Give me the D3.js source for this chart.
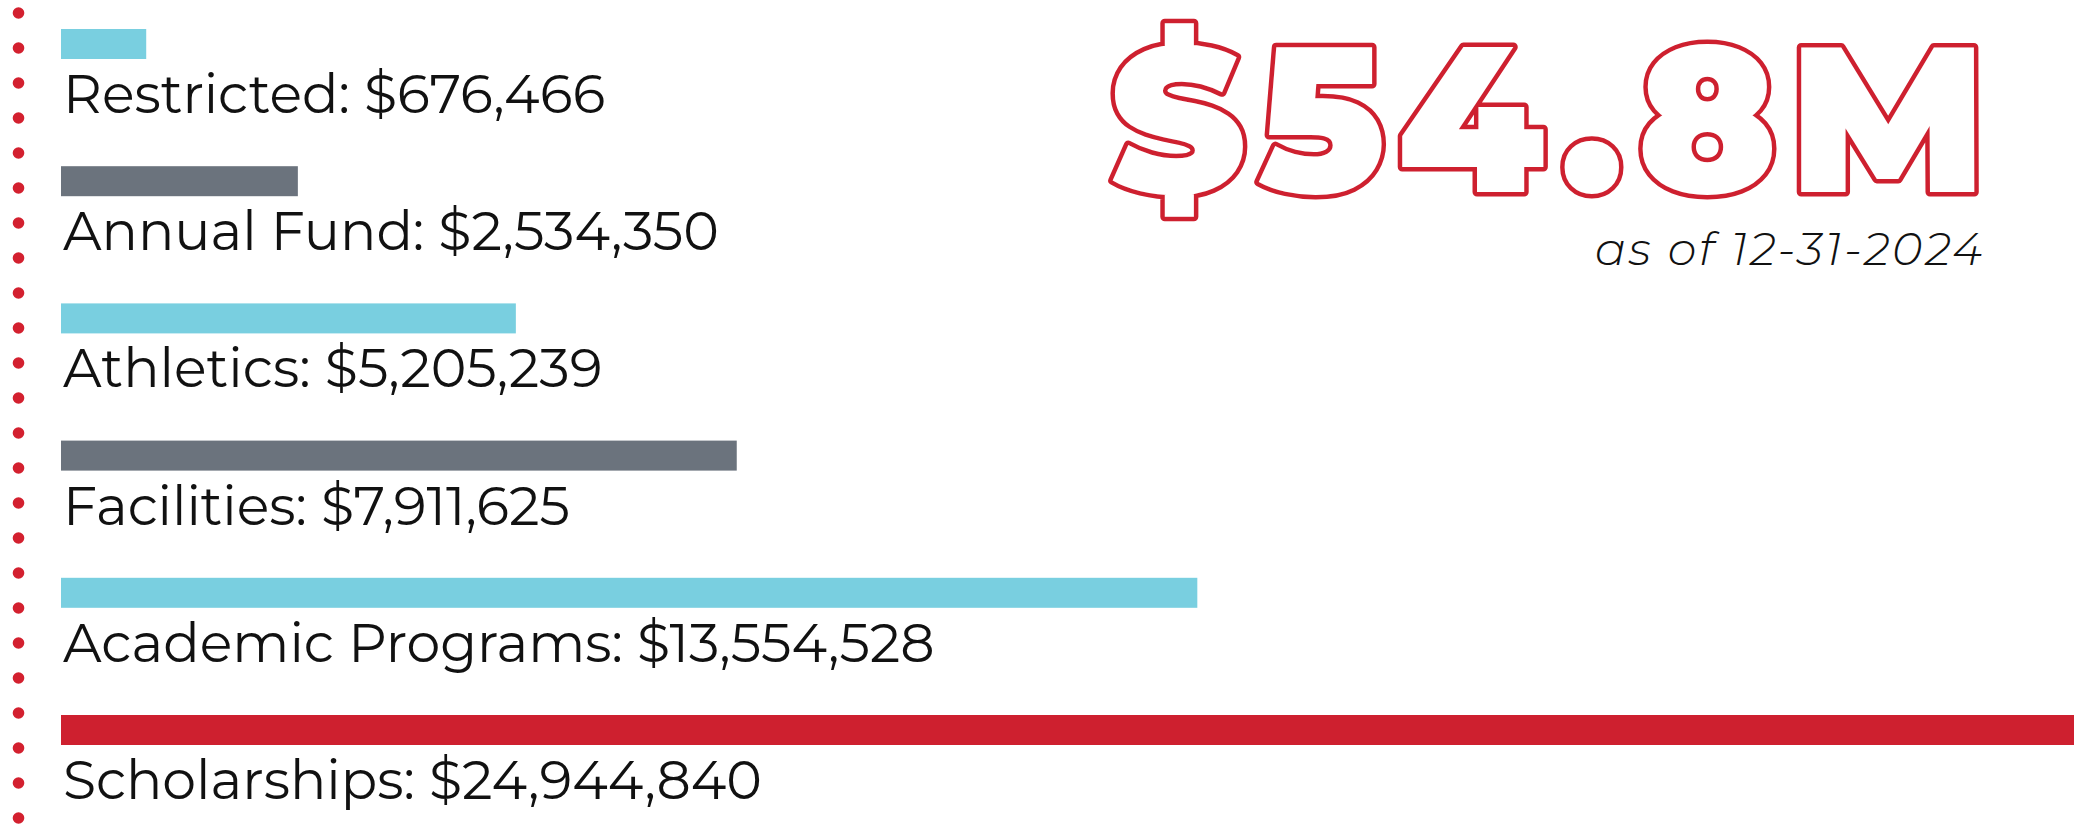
<!DOCTYPE html>
<html>
<head>
<meta charset="utf-8">
<script src="https://cdn.jsdelivr.net/npm/d3@7"></script>
<style>
  html, body { margin: 0; padding: 0; background: #fff; }
  svg { display: block; }
  .label { font-family: "Montserrat", "Noto Sans", sans-serif; font-weight: 400; fill: #111; }
  .total { font-family: "Montserrat", "Inter", sans-serif; font-weight: 900; }
  .total-outline { fill: #ce202f; stroke: #ce202f; stroke-width: 9; stroke-linejoin: round; }
  .total-fill { fill: #fff; }
  .asof { font-family: "Montserrat", "Noto Sans", sans-serif; font-style: italic; font-weight: 300; fill: #111; letter-spacing: 2.6px; }
</style>
</head>
<body>
<svg width="2074" height="824"></svg>
<script>
// chart data
var categories = ["Restricted", "Annual Fund", "Athletics", "Facilities", "Academic Programs", "Scholarships"];
var amounts = [676466, 2534350, 5205239, 7911625, 13554528, 24944840];
var barColors = ["#79cfe0", "#6b737d", "#79cfe0", "#6b737d", "#79cfe0", "#ce202f"];
var totalLabel = "$54.8M";
var asOfLabel = "as of 12-31-2024";

function draw_chart() {
    var svg = d3.select("svg");
    var left = 61;
    var barHeight = 30;

    var y = d3.scalePoint()
        .domain(categories)
        .range([29, 715]);

    // bars start with a small minimum length like the original
    var x = d3.scaleLinear()
        .domain([0, d3.max(amounts)])
        .range([30, 2066]);

    var fmt = d3.format(",");

    var rows = categories.map(function (c, i) {
        return { name: c, value: amounts[i], color: barColors[i] };
    });

    // dotted red rule down the left edge
    svg.append("g")
        .selectAll("circle")
        .data(d3.range(24))
        .enter().append("circle")
        .attr("cx", 18.5)
        .attr("cy", function (d) { return 13 + d * 35; })
        .attr("r", 5.8)
        .attr("fill", "#d3202f");

    svg.append("g")
        .selectAll("rect")
        .data(rows)
        .enter().append("rect")
        .attr("x", left)
        .attr("y", function (d) { return y(d.name); })
        .attr("width", function (d) { return x(d.value); })
        .attr("height", barHeight)
        .attr("fill", function (d) { return d.color; });

    svg.append("g")
        .selectAll("text")
        .data(rows)
        .enter().append("text")
        .attr("class", "label")
        .attr("x", left + 2)
        .attr("y", function (d) { return y(d.name) + 84; })
        .attr("font-size", 53.8)
        .text(function (d) { return d.name + ": $" + fmt(d.value); });

    // headline total: red outline layer under a white fill layer
    svg.append("g")
        .selectAll("text")
        .data(["total-outline", "total-fill"])
        .enter().append("text")
        .attr("class", function (d) { return "total " + d; })
        .attr("x", 1986)
        .attr("y", 192)
        .attr("text-anchor", "end")
        .attr("font-size", 206)
        .attr("textLength", 876)
        .attr("lengthAdjust", "spacing")
        .text(totalLabel);

    svg.append("text")
        .attr("class", "asof")
        .attr("x", 1985)
        .attr("y", 265)
        .attr("text-anchor", "end")
        .attr("font-size", 46)
        .text(asOfLabel);
}

draw_chart();
</script>
</body>
</html>
